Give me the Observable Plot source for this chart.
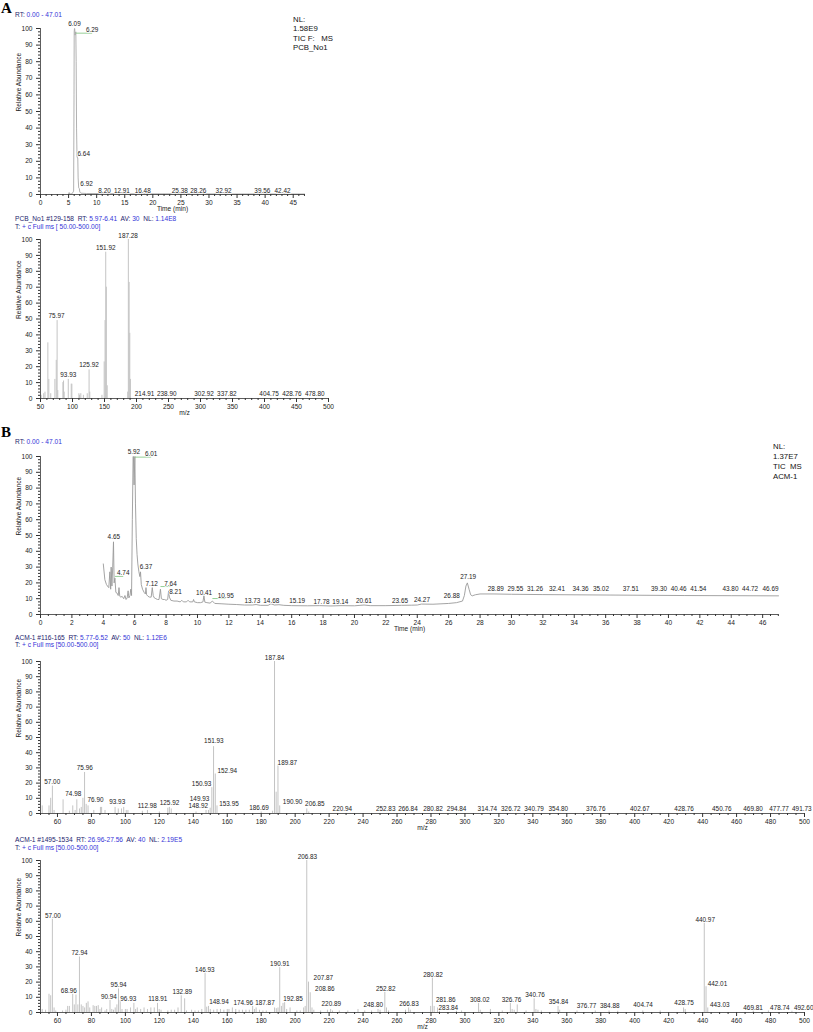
<!DOCTYPE html>
<html><head><meta charset="utf-8">
<script src="https://cdn.jsdelivr.net/npm/d3@7"></script>
<script src="https://cdn.jsdelivr.net/npm/@observablehq/plot@0.6"></script>
<style>
body{margin:0;background:#fff;}
#page{position:relative;width:813px;height:1032px;overflow:hidden;background:#fff;font-family:"Liberation Sans",Arial,Helvetica,sans-serif;color:#111;}
.t{position:absolute;white-space:pre;line-height:1;}
.k{color:#1d1d6e}.v{color:#3434d8}
.big{font-family:"Liberation Serif","Times New Roman",serif;font-weight:bold;color:#000;}
.panel{position:absolute;left:0;}
</style></head><body><div id="page"></div>
<script>
// ---------------- Panel A: TIC chromatogram (PCB_No1) ----------------
const chromA_time  = [5.0, 5.1, 5.2, 5.6, 5.9, 5.97, 6.0, 6.05, 6.09, 6.15, 6.22, 6.29, 6.35, 6.42, 6.5, 6.58, 6.64, 6.7, 6.8, 6.92, 7.0, 7.2, 8.2, 12.91, 16.48, 25.38, 28.26, 32.92, 39.56, 42.42, 47.01];
const chromA_abund = [0.3, 1.2, 0.3, 0.4, 2, 60, 98, 100, 100, 96, 97, 98, 80, 40, 23, 22, 22, 10, 4, 3.5, 1.5, 0.8, 0.6, 0.5, 0.4, 0.4, 0.4, 0.3, 0.3, 0.3, 0.3];
const chromA_peaks  = [6.09, 6.29, 6.64, 6.92, 8.20, 12.91, 16.48, 25.38, 28.26, 32.92, 39.56, 42.42];
const chromA_labelX = [6.05, 9.2, 7.7, 8.2, 11.4, 14.5, 18.2, 24.8, 28.1, 32.6, 39.5, 43.1];
const chromA_labelY = [103, 99, 24.7, 6.6, 2.2, 2.2, 2.2, 2.2, 2.2, 2.2, 2.2, 2.2];
const chromA_leaders = [6.29];

// ---------------- Panel A: mass spectrum ----------------
const specA_mz    = [51, 55, 57, 61.5, 63, 66, 72.5, 74.6, 75.97, 77, 85, 86, 87, 93.4, 98, 99, 110, 111, 113, 117, 123, 125.92, 127, 146, 149.5, 150.9, 151.92, 152.9, 154.2, 186.3, 187.28, 188.5, 189.5, 190.5];
const specA_abund = [2, 3, 4, 35, 12, 3, 12, 24, 49, 5, 10, 11, 4, 12, 9, 9, 3, 2, 3, 2, 3, 18, 4, 2, 23, 49, 92, 70, 8, 4, 100, 73, 41, 12];
const specA_peaks  = [187.28, 151.92, 75.97, 93.93, 125.92, 214.91, 238.90, 302.92, 337.82, 404.75, 428.76, 478.80];
const specA_labelX = [186.9, 151.9, 75.1, 93.4, 125.8, 212.6, 247.3, 305.6, 341.2, 407.2, 442.8, 478.5];
const specA_labelY = [102, 94.6, 52, 15, 21, 3, 3, 3, 3, 3, 3, 3];

// ---------------- Panel B: TIC chromatogram (ACM-1) ----------------
const chromB_time  = [4.00, 4.1, 4.2, 4.3, 4.35, 4.42, 4.47, 4.5, 4.55, 4.6, 4.65, 4.69, 4.74, 4.8, 4.88, 4.95, 5.0, 5.05, 5.12, 5.2, 5.3, 5.38, 5.45, 5.52, 5.58, 5.63, 5.7, 5.75, 5.8, 5.85, 5.9, 5.92, 5.96, 6.01, 6.05, 6.1, 6.15, 6.2, 6.27, 6.33, 6.37, 6.42, 6.5, 6.6, 6.68, 6.72, 6.76, 6.85, 6.95, 7.05, 7.12, 7.18, 7.25, 7.35, 7.45, 7.55, 7.64, 7.7, 7.8, 7.9, 8.0, 8.1, 8.16, 8.21, 8.3, 8.5, 8.7, 8.9, 9.0, 9.1, 9.3, 9.4, 9.5, 9.7, 9.75, 9.8, 10.0, 10.2, 10.35, 10.41, 10.47, 10.6, 10.8, 10.95, 11.1, 11.5, 12.0, 12.5, 13.0, 13.5, 13.73, 14.0, 14.5, 14.68, 14.9, 15.19, 15.5, 16.0, 17.0, 17.78, 18.5, 19.14, 20.0, 20.61, 21.0, 22.0, 23.0, 23.65, 24.0, 24.27, 25.0, 26.0, 26.5, 26.88, 27.0, 27.1, 27.19, 27.3, 27.4, 27.5, 27.7, 28.0, 28.89, 30, 32, 35, 38, 41, 44, 47.01];
const chromB_abund = [32, 22, 19, 17.5, 17, 27, 16, 30, 18, 30, 46, 20, 23, 14, 13.5, 12, 17, 11.5, 11, 11.5, 10, 12, 9.5, 10.5, 15, 10.5, 12, 16, 12, 60, 100, 100, 82, 100, 70, 48, 38, 32, 27, 24, 27, 19, 16, 14, 13, 17, 12.5, 11.5, 11, 11, 17, 12, 10.5, 10, 9.5, 9.5, 16, 10, 9.5, 9.5, 9, 9.5, 15, 11, 9, 8.5, 8.5, 8, 9, 8, 8, 9, 8, 8, 9.5, 8, 7.5, 7.5, 8, 12, 7.8, 7.5, 7.2, 8.5, 7, 6.8, 6.5, 6.3, 6.0, 6.0, 6.3, 5.8, 5.8, 6.8, 6, 6.2, 5.8, 5.6, 5.5, 5.6, 5.4, 5.6, 5.5, 6, 5.6, 5.6, 5.8, 5.9, 6, 6.6, 6.5, 7, 7.5, 8.5, 12, 18, 20, 16, 12.5, 11.8, 12.5, 13, 13, 12.8, 12.6, 12.4, 12.2, 12, 11.9, 11.8];
const chromB_peaks  = [4.65, 4.74, 5.92, 6.01, 6.37, 7.12, 7.64, 8.21, 10.41, 10.95, 13.73, 14.68, 15.19, 17.78, 19.14, 20.61, 23.65, 24.27, 26.88, 27.19, 28.89, 29.55, 31.26, 32.41, 34.36, 35.02, 37.51, 39.30, 40.46, 41.54, 43.80, 44.72, 46.69];
const chromB_labelX = [4.67, 5.27, 5.95, 7.05, 6.72, 7.08, 8.28, 8.6, 10.42, 11.8, 13.5, 14.7, 16.35, 17.9, 19.1, 20.6, 22.9, 24.3, 26.2, 27.24, 29.0, 30.25, 31.5, 32.9, 34.4, 35.7, 37.6, 39.4, 40.65, 41.9, 43.95, 45.2, 46.5];
const chromB_labelY = [49, 26, 103, 101.5, 30, 19.6, 19.6, 14.1, 13.8, 12, 8.6, 8.8, 8.4, 7.8, 7.8, 8.4, 8.4, 9.5, 12, 23.6, 16.2, 16.2, 16.2, 16.2, 16.2, 16.2, 16.2, 16.2, 16.2, 16.2, 16.2, 16.2, 16.2];
const chromB_leaders = [4.74, 6.01, 7.64, 10.95];

// ---------------- Panel B: spectrum ACM-1 #116-165 ----------------
const specB1_mz    = [51, 55, 56, 57.00, 58, 63.3, 67, 69, 70.4, 71.4, 73, 74, 74.98, 75.96, 76.90, 78, 81.4, 85.3, 86, 88, 93.93, 95.8, 97.7, 99, 100.5, 101.5, 110, 112.98, 120, 125, 125.92, 127, 141.6, 147.5, 148.92, 149.93, 150.93, 151.93, 152.94, 153.95, 180, 186.69, 187.84, 188.8, 189.87, 190.90, 206.85, 208];
const specB1_abund = [5, 5, 10, 18, 2, 9, 1.5, 5, 2, 9, 3, 4, 10, 27, 6, 5, 2, 4, 4, 2, 4, 3, 3, 4, 2, 2, 1.5, 2, 1, 3.5, 4, 3, 1, 2, 2, 3.5, 17, 44, 26, 5, 1, 1.5, 100, 14, 32, 5, 3, 1];
const specB1_peaks  = [57.00, 74.98, 75.96, 76.90, 93.93, 112.98, 125.92, 148.92, 149.93, 150.93, 151.93, 152.94, 153.95, 186.69, 187.84, 189.87, 190.90, 206.85, 220.94, 252.83, 266.84, 280.82, 294.84, 314.74, 326.72, 340.79, 354.80, 376.76, 402.67, 428.76, 450.76, 469.80, 477.77, 491.73];
const specB1_labelX = [56.9, 69.3, 76.1, 82.4, 95.2, 112.9, 126, 142.9, 143.7, 144.9, 152.1, 160, 161, 178.7, 187.9, 195.4, 198.5, 211.6, 227.8, 253.3, 266.4, 281.2, 295.1, 313.2, 327, 340.7, 355, 377, 403, 429.1, 451.3, 469.7, 485, 498.4];
const specB1_labelY = [20.8, 12.7, 30, 8.8, 7.7, 5, 7, 4.8, 9.8, 19.3, 47.7, 28, 6.6, 3.7, 102.4, 33.5, 7.7, 6.1, 2.8, 3.3, 3.3, 3.3, 3.3, 3.3, 3.3, 3.3, 3.3, 3.3, 3.3, 3.3, 3.3, 3.3, 3.3, 3.3];

// ---------------- Panel B: spectrum ACM-1 #1495-1534 ----------------
const specB2_mz    = [51, 53, 55, 56, 57.00, 58, 59, 63, 65, 66, 67, 68.96, 69.9, 70.9, 72, 72.94, 74, 75, 76, 77, 78, 79, 81, 82, 83, 84, 85, 86, 88, 89, 90.94, 92, 93, 94, 95, 95.94, 96.93, 98, 100, 101, 103, 105, 106, 107, 109, 111, 113, 115, 117, 118.91, 119.9, 121, 125, 127, 129, 131, 132.89, 134.9, 136, 139, 141, 143, 145, 146.93, 147.9, 148.94, 150, 152, 154, 156, 158, 160, 161, 163, 165, 167, 169, 171, 173, 174.96, 176, 177, 179, 181, 183, 187.87, 188.9, 189.9, 190.91, 191.9, 192.85, 193.8, 195, 197, 201, 203, 205, 205.9, 206.83, 207.87, 208.86, 209.9, 211, 215, 219, 220.89, 222, 226, 231, 237, 241, 245, 248.80, 250, 252.82, 253.8, 255, 265, 266.83, 267.8, 279.8, 280.82, 281.86, 283.84, 285, 295, 298, 308.02, 309, 315, 322, 326.76, 327.8, 329, 330.8, 336, 340.76, 341.8, 343, 345, 354.84, 355.8, 366, 376.77, 384.88, 390, 404.74, 415, 428.75, 429.7, 440.97, 442.01, 443.03, 469.81, 478.74, 492.60];
const specB2_abund = [2, 1.5, 12, 11, 61.5, 3, 1, 1, 1.5, 4, 4, 12, 5, 11.5, 5, 36.5, 5, 4, 3, 6, 7, 3, 4.5, 4, 4, 4.5, 2, 3, 1, 2, 8, 2, 1.5, 3, 5, 15.5, 8, 2, 2, 2, 3, 6, 2, 3, 2, 3, 2, 3, 3, 6, 2, 1.5, 1, 1.5, 1.5, 3, 11, 9, 1, 1.5, 1, 1, 2, 26, 3.5, 4, 2, 1.5, 2, 2, 1.5, 2, 2, 3, 2, 1.5, 1.5, 1.5, 1.5, 4, 2, 3, 1.5, 1, 1, 3, 2.5, 3, 29.5, 4, 6, 6.5, 2, 3, 1, 1, 3, 4, 100, 20, 13, 3, 1.5, 1, 1.5, 2, 1, 1, 1, 2, 1, 1, 2, 1.5, 13.5, 3, 1, 1.5, 3, 1.5, 4, 23, 4, 3, 1, 1, 1, 6, 1.5, 2, 1, 6, 2, 1.5, 5, 1, 9, 2, 1.5, 1, 4, 1.5, 1, 1, 1, 0.8, 1, 1, 3, 2, 59, 17, 3, 1, 1, 0.8];
const specB2_peaks  = [57.00, 68.96, 72.94, 90.94, 95.94, 96.93, 118.91, 132.89, 146.93, 148.94, 174.96, 187.87, 190.91, 192.85, 206.83, 207.87, 208.86, 220.89, 248.80, 252.82, 266.83, 280.82, 281.86, 283.84, 308.02, 326.76, 340.76, 354.84, 376.77, 384.88, 404.74, 428.75, 440.97, 442.01, 443.03, 469.81, 478.74, 492.60];
const specB2_labelX = [57.3, 66.7, 73, 90.3, 96, 101.7, 119.1, 133.5, 146.8, 155.1, 169.4, 182.2, 191, 198.7, 207.2, 216.6, 217.5, 221.3, 246, 253.3, 267, 281.2, 288.7, 290.2, 308.7, 327.4, 341.3, 355.1, 371.6, 385.3, 404.9, 429.1, 441.5, 448.7, 450.1, 469.7, 485.5, 499.5];
const specB2_labelY = [63.3, 14.3, 39, 10.3, 18, 9.2, 8.8, 13.8, 28.1, 7, 6.6, 6.6, 31.9, 8.8, 102.6, 23, 15.8, 5.9, 5, 15.8, 5.9, 24.8, 8.1, 3.3, 8.4, 8.4, 11.4, 7, 4, 4, 5, 6.2, 60.9, 19.1, 5, 3.3, 3.3, 3.3];

// ---------------- texts ----------------
const FONT = '"Liberation Sans", Arial, Helvetica, sans-serif';
const page = document.getElementById("page");
const fmt2 = d3.format(".2f");

function addText(x, yc, html, size, cls) {
  const d = document.createElement("div");
  d.className = "t " + (cls || "");
  d.style.left = x + "px";
  d.style.top = (yc - size * 0.55) + "px";
  d.style.fontSize = size + "px";
  d.innerHTML = html;
  page.appendChild(d);
}
const k = s => `<span class="k">${s}</span>`;
const v = s => `<span class="v">${s}</span>`;

function zip3(peaks, lx, ly) { return peaks.map((p, i) => ({p, lx: lx[i], ly: ly[i]})); }

function panel({top, height, mt, mb, width, mr, xDomain, xMajor, xMinor, marks, xTitle}) {
  const yMajor = d3.range(0, 101, 10);
  const yMinor = d3.range(0, 101, 2).filter(t => t % 10 !== 0);
  const svg = Plot.plot({
    width, height, marginTop: mt, marginBottom: mb, marginLeft: 40, marginRight: mr,
    x: {domain: xDomain}, y: {domain: [0, 100]},
    style: {fontFamily: FONT, fontSize: "6.6px", color: "#222", background: "transparent", overflow: "visible"},
    marks: [
      ...marks,
      Plot.ruleX([xDomain[0]], {y1: 0, y2: 100, stroke: "#333", strokeWidth: 0.8}),
      Plot.ruleY([0], {x1: xDomain[0], x2: xDomain[1], stroke: "#333", strokeWidth: 0.8}),
      Plot.axisY(yMajor, {tickSize: 4, tickPadding: 4, label: null, stroke: "#333"}),
      Plot.axisY(yMinor, {tickSize: 2, tickFormat: () => "", label: null, stroke: "#333"}),
      Plot.axisX(xMajor, {tickSize: 4, tickPadding: 1.5, label: null, stroke: "#333", tickFormat: d => String(d)}),
      Plot.axisX(xMinor, {tickSize: 2, tickFormat: () => "", label: null, stroke: "#333"}),
      Plot.text([xTitle], {text: d => d, frameAnchor: "bottom", dy: 16.5, fill: "#222"}),
      Plot.text(["Relative Abundance"], {text: d => d, frameAnchor: "left", dx: -22, rotate: -90, fill: "#222"})
    ]
  });
  svg.classList.add("panel");
  svg.style.top = top + "px";
  page.appendChild(svg);
}

function labelMarks(labels, leaders) {
  const lead = labels.filter(d => leaders.includes(d.p));
  return [
    Plot.link(lead, {x1: "p", x2: "lx", y1: "ly", y2: "ly", dy: 3, stroke: "#7cc47c", strokeWidth: 0.8}),
    Plot.text(labels, {x: "lx", y: "ly", text: d => fmt2(d.p), fontSize: 6.4, fill: "#222", stroke: "white", strokeWidth: 1.6, paintOrder: "stroke"})
  ];
}

const tableA = chromA_time.map((t, i) => ({t, a: chromA_abund[i]}));
const tableB = chromB_time.map((t, i) => ({t, a: chromB_abund[i]}));
const barsA = specA_mz.map((m, i) => ({m, a: specA_abund[i]}));
const barsB1 = specB1_mz.map((m, i) => ({m, a: specB1_abund[i]}));
const barsB2 = specB2_mz.map((m, i) => ({m, a: specB2_abund[i]}));

// Panel A chromatogram
panel({
  top: 0, height: 214, mt: 28, mb: 20, width: 420, mr: 116,
  xDomain: [0, 47.01], xMajor: d3.range(0, 46, 5), xMinor: d3.range(0, 47.01, 1).filter(t => t % 5 !== 0),
  xTitle: "Time (min)",
  marks: [
    Plot.line(tableA, {x: "t", y: "a", stroke: "#a8a8a8", strokeWidth: 0.9}),
    ...labelMarks(zip3(chromA_peaks, chromA_labelX, chromA_labelY), chromA_leaders)
  ]
});
// Panel A spectrum
panel({
  top: 214, height: 206, mt: 25, mb: 22, width: 420, mr: 92,
  xDomain: [50, 500], xMajor: d3.range(50, 501, 50), xMinor: d3.range(50, 501, 10).filter(t => t % 50 !== 0),
  xTitle: "m/z",
  marks: [
    Plot.ruleX(barsA, {x: "m", y1: 0, y2: "a", stroke: "#c4c4c4", strokeWidth: 1}),
    ...labelMarks(zip3(specA_peaks, specA_labelX, specA_labelY), [])
  ]
});
// Panel B chromatogram
panel({
  top: 420, height: 215, mt: 36, mb: 21, width: 813, mr: 35,
  xDomain: [0, 47.01], xMajor: d3.range(0, 47, 2), xMinor: d3.range(0, 47.01, 0.5).filter(t => t % 2 !== 0),
  xTitle: "Time (min)",
  marks: [
    Plot.line(tableB, {x: "t", y: "a", stroke: "#9a9a9a", strokeWidth: 0.9}),
    ...labelMarks(zip3(chromB_peaks, chromB_labelX, chromB_labelY), chromB_leaders)
  ]
});
// Panel B spectrum 1
panel({
  top: 635, height: 199, mt: 26, mb: 21, width: 813, mr: 9,
  xDomain: [50, 500], xMajor: d3.range(60, 501, 20), xMinor: d3.range(50, 501, 5).filter(t => (t - 60) % 20 !== 0),
  xTitle: "m/z",
  marks: [
    Plot.ruleX(barsB1, {x: "m", y1: 0, y2: "a", stroke: "#c4c4c4", strokeWidth: 1}),
    ...labelMarks(zip3(specB1_peaks, specB1_labelX, specB1_labelY), [])
  ]
});
// Panel B spectrum 2
panel({
  top: 834, height: 198, mt: 26, mb: 20, width: 813, mr: 9,
  xDomain: [50, 500], xMajor: d3.range(60, 501, 20), xMinor: d3.range(50, 501, 5).filter(t => (t - 60) % 20 !== 0),
  xTitle: "m/z",
  marks: [
    Plot.ruleX(barsB2, {x: "m", y1: 0, y2: "a", stroke: "#c4c4c4", strokeWidth: 1}),
    ...labelMarks(zip3(specB2_peaks, specB2_labelX, specB2_labelY), [])
  ]
});

// Headers and annotations
addText(1, 9.5, "A", 15, "big");
addText(15, 16, k("RT: ") + v("0.00 - 47.01"), 6.6);
addText(293, 20, "NL:", 7.8);
addText(293, 29.5, "1.58E9", 7.8);
addText(293, 39, "TIC F:   MS", 7.8);
addText(293, 48.5, "PCB_No1", 7.8);

addText(15, 220, k("PCB_No1 #129-158  RT: ") + v("5.97-6.41") + k("  AV: ") + v("30") + k("  NL: ") + v("1.14E8"), 6.6);
addText(15, 228, k("T: ") + v("+ c Full ms [ 50.00-500.00]"), 6.6);

addText(1, 433, "B", 15, "big");
addText(15, 443, k("RT: ") + v("0.00 - 47.01"), 6.6);
addText(773, 447, "NL:", 7.8);
addText(773, 457, "1.37E7", 7.8);
addText(773, 467, "TIC  MS", 7.8);
addText(773, 477, "ACM-1", 7.8);

addText(15, 638.5, k("ACM-1 #116-165  RT: ") + v("5.77-6.52") + k("  AV: ") + v("50") + k("  NL: ") + v("1.12E6"), 6.6);
addText(15, 646, k("T: ") + v("+ c Full ms [50.00-500.00]"), 6.6);

addText(15, 841, k("ACM-1 #1495-1534  RT: ") + v("26.96-27.56") + k("  AV: ") + v("40") + k("  NL: ") + v("2.19E5"), 6.6);
addText(15, 848.5, k("T: ") + v("+ c Full ms [50.00-500.00]"), 6.6);
</script>
</body></html>
